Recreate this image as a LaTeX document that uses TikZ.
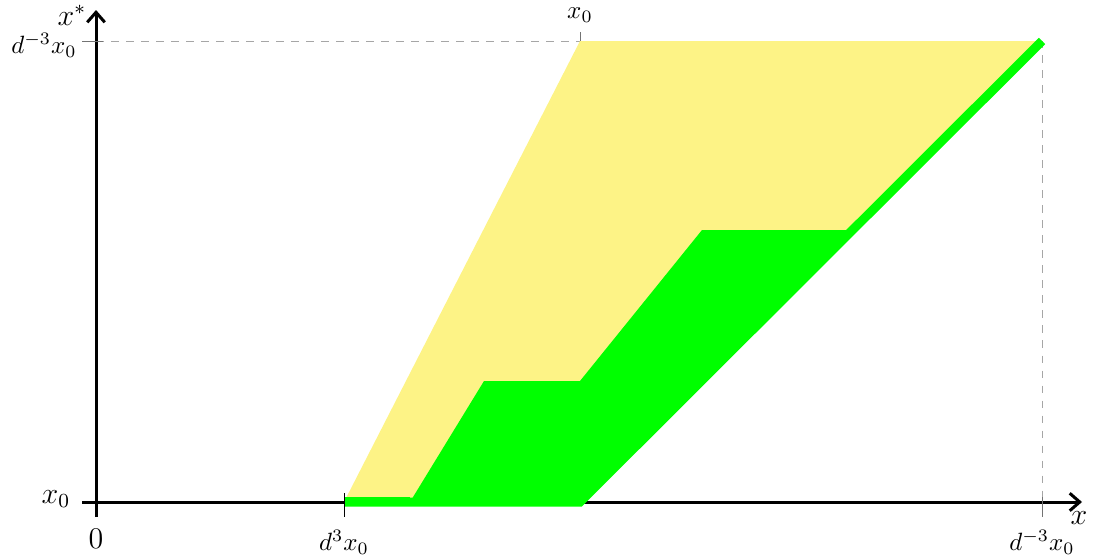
\documentclass[tikz,border=0pt]{standalone}
\usepackage{amsmath}
\usepackage{xcolor}
\usepackage{tikz}
\usetikzlibrary{arrows.meta,positioning,calc}

\definecolor{regionyellow}{RGB}{253,243,134}
\definecolor{regiongreen}{RGB}{0,255,0}

\begin{document}
\begin{tikzpicture}[x=0.01406cm,y=-0.01406cm,
    axis/.style={draw=black, line width=1.2pt},
    guide/.style={draw=black!35, dashed, line width=0.4pt},
    tickmark/.style={draw=black!55, line width=0.4pt}]
  \useasboundingbox (0,0) rectangle (1096,557);

  % key points
  \coordinate (O)  at (96,502);
  \coordinate (lo) at (344,502);
  \coordinate (mid) at (580,502);
  \coordinate (hi) at (1042,502);
  \coordinate (top) at (580,41);
  \coordinate (corner) at (1042,41);

  % guides
  \draw[guide] (96,41) -- (corner) -- (hi);

  % axes
  \draw[axis, -{Straight Barb[length=4pt,width=7pt]}] (82,502) -- (1082,502);
  \draw[axis, -{Straight Barb[length=4pt,width=7pt]}] (96,517) -- (96,10);

  % regions
  \fill[regionyellow] (lo) -- (top) -- (corner) -- (mid) -- cycle;
  \fill[regiongreen] (410,502) -- (484,381) -- (580,381) -- (702,230)
    -- (853,230) -- (mid) -- cycle;
  \fill[regiongreen] (344,502) -- (344,497) -- (410,497) -- (410,502) -- cycle;
  \draw[regiongreen, line width=3.6pt, line join=miter] (lo) -- (mid) -- (corner);

  % ticks
  \draw[black, line width=0.4pt] (344,493) -- (344,517);
  \draw[tickmark] (1042,497) -- (1042,517);
  \draw[tickmark] (580,32) -- (580,41);
  \draw[tickmark] (82,41) -- (103,41);

  % labels
  \node[font=\large, inner sep=1pt] (xlab)  at (1079,518) {$x$};
  \node[font=\large, inner sep=0pt] (xslab) at (72,15) {$x^{*}$};
  \node[font=\large] (zero)  at (96,539) {$0$};
  \node[font=\large] (ylo)   at (56,499) {$x_0$};
  \node[inner sep=0pt] (yhi)  at (44,45) {$d^{-3}x_0$};
  \node (xtop) at (580,15) {$x_0$};
  \node (xlo)  at (344,542) {$d^{3}x_0$};
  \node (xhi)  at (1042,542) {$d^{-3}x_0$};
\end{tikzpicture}
\end{document}
